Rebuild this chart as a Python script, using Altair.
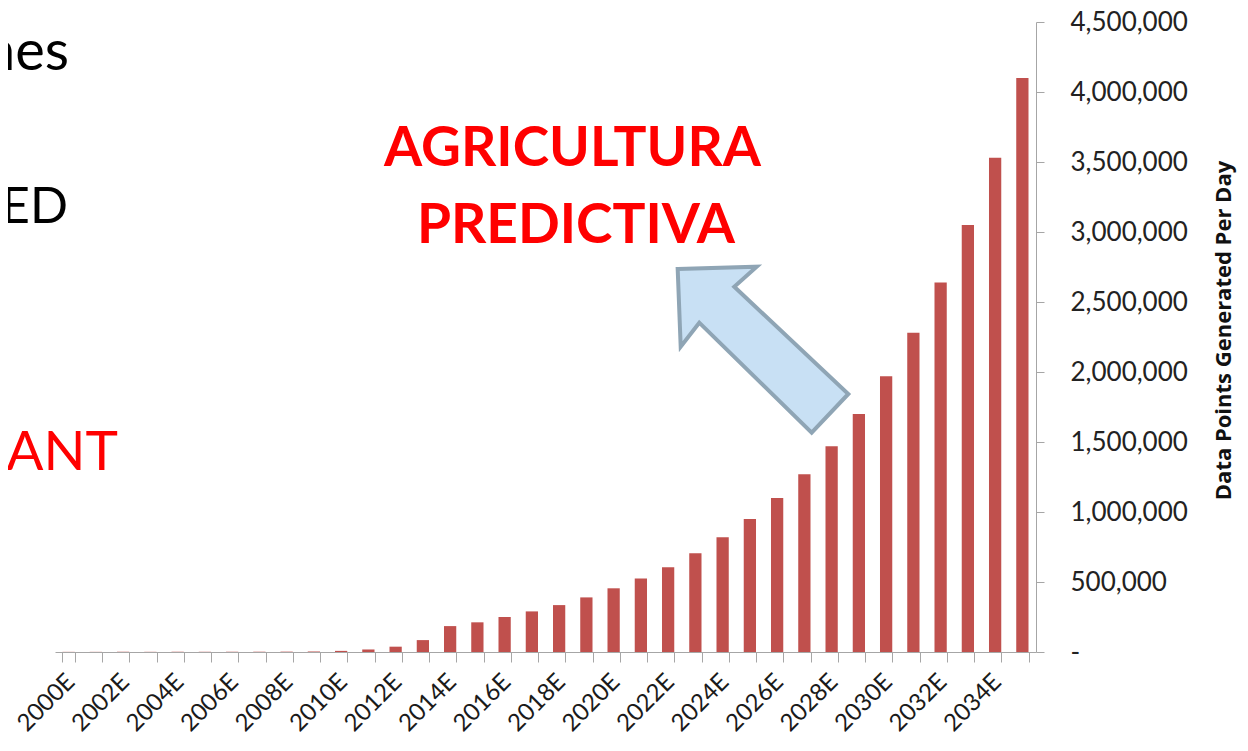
import altair as alt
import pandas as pd

# ---- data ----
years = [f"{y}E" for y in range(2000, 2036)]
values = [1000, 1000, 1200, 1200, 1500, 1500, 1800, 2000, 2500, 3500,
          8000, 18000, 38000, 85000, 185000, 212000, 250000, 290000, 335000, 390000,
          455000, 525000, 605000, 705000, 820000, 950000, 1100000, 1270000, 1470000, 1700000,
          1970000, 2280000, 2640000, 3050000, 3530000, 4100000]
y_ticks = [0, 500000, 1000000, 1500000, 2000000, 2500000, 3000000, 3500000, 4000000, 4500000]
y_title = "Data Points Generated Per Day"
headline = ["AGRICULTURA", "PREDICTIVA"]
side_texts = ["nes", "ED", "NANT"]

df = pd.DataFrame({"year": years, "value": values})

FONT = "Lato"
AXIS_GRAY = "#a6a6a6"

bars = alt.Chart(df).mark_bar(color="#c0504d").encode(
    x=alt.X(
        "year:N", sort=years,
        scale=alt.Scale(paddingInner=0.55, paddingOuter=0.275),
        axis=alt.Axis(
            title=None, labelAngle=-45, labelAlign="right", labelBaseline="middle",
            labelExpr="parseInt(substring(datum.value,0,4)) % 2 == 0 ? datum.value : ''",
            labelFont=FONT, labelFontSize=24, labelColor="#1a1a1a", labelPadding=16,
            labelOffset=2,
            labelOverlap=False, tickSize=10, tickColor=AXIS_GRAY, domainColor=AXIS_GRAY,
            tickBand="extent", grid=False,
        ),
    ),
    y=alt.Y(
        "value:Q",
        scale=alt.Scale(domain=[0, 4500000], nice=False),
        axis=alt.Axis(
            orient="right", values=y_ticks, grid=False,
            labelExpr="datum.value == 0 ? '-' : format(datum.value, ',')",
            labelFont=FONT, labelFontSize=26, labelColor="#222222", labelPadding=26,
            tickSize=8, tickColor=AXIS_GRAY, domainColor=AXIS_GRAY,
            title=y_title, titleFont="Open Sans", titleFontSize=22, titleFontWeight="bold",
            titleColor="#111111", titleAngle=270, titleX=187, titleY=308,
            titleAlign="center", titleBaseline="middle",
        ),
    ),
)

one = alt.Data(values=[{}])

arrow_path = ("M -0.992 -0.936 L -0.073 -0.963 L -0.334 -0.730 L 0.992 0.517 "
              "L 0.566 0.967 L -0.741 -0.312 L -0.957 -0.033 Z")
arrow = alt.Chart(one).mark_point(
    shape=arrow_path, size=29584, filled=True, fill="#c8e0f4", fillOpacity=1,
    stroke="#8fa5b5", strokeWidth=4, strokeOpacity=1,
).encode(x=alt.value(708), y=alt.value(327.5))

t1 = alt.Chart(one).mark_text(
    text=headline[0], font=FONT, fontSize=55, fontWeight="bold", color="#ff0000",
    align="center", baseline="alphabetic",
).encode(x=alt.value(517.5), y=alt.value(144))
t2 = alt.Chart(one).mark_text(
    text=headline[1], font=FONT, fontSize=55, fontWeight="bold", color="#ff0000",
    align="center", baseline="alphabetic",
).encode(x=alt.value(521), y=alt.value(221))

s1 = alt.Chart(one).mark_text(
    text=side_texts[0], font=FONT, fontSize=56, color="#000000",
    align="right", baseline="alphabetic",
).encode(x=alt.value(14), y=alt.value(48))
s2 = alt.Chart(one).mark_text(
    text=side_texts[1], font=FONT, fontSize=50, color="#000000",
    align="right", baseline="alphabetic",
).encode(x=alt.value(13), y=alt.value(201))
s3 = alt.Chart(one).mark_text(
    text=side_texts[2], font=FONT, fontSize=55, color="#ff0000",
    align="right", baseline="alphabetic",
).encode(x=alt.value(63), y=alt.value(448))

chart = alt.layer(bars, arrow, t1, t2, s1, s2, s3).properties(
    width=981, height=630,
    autosize=alt.AutoSizeParams(type="none"),
    padding={"left": 47, "top": 14, "right": 202, "bottom": 84},
    background="white",
).configure_view(stroke=None)

chart.save("out.html", embed_options={"renderer": "svg", "actions": False})
